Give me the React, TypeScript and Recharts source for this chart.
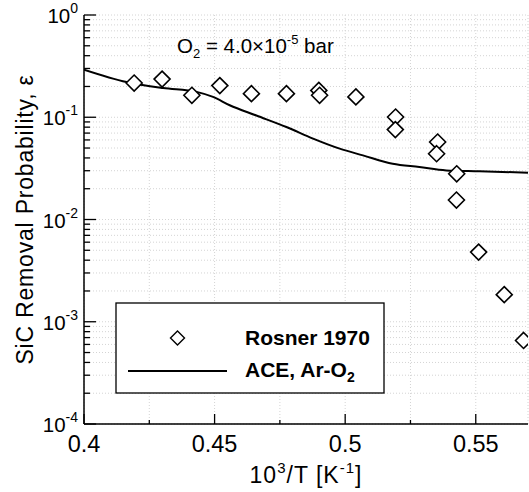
import React from 'react';
import {
  ComposedChart,
  Line,
  Scatter,
  XAxis,
  YAxis,
  CartesianGrid,
  Customized,
  Label,
} from 'recharts';

// Rosner 1970 measurements
const rosnerX = [
  0.4192, 0.4299, 0.4413, 0.452, 0.4641, 0.4775, 0.4899, 0.4902, 0.5041, 0.5193, 0.5192, 0.5354,
  0.535, 0.5427, 0.5426, 0.5511, 0.5609, 0.5683,
];
const rosnerY = [
  0.216, 0.236, 0.164, 0.204, 0.17, 0.17, 0.183, 0.164, 0.158, 0.1005, 0.0757, 0.0572, 0.044, 0.028,
  0.0155, 0.0048, 0.00184, 0.000656,
];

// ACE, Ar-O2 model curve
const aceX = [
  0.4, 0.4163, 0.4303, 0.4431, 0.4494, 0.4558, 0.466, 0.4775, 0.4877, 0.4979, 0.5068, 0.5182, 0.5284,
  0.5387, 0.5514, 0.57,
];
const aceY = [
  0.292, 0.221, 0.193, 0.177, 0.158, 0.131, 0.104, 0.0802, 0.0618, 0.0493, 0.0424, 0.0351, 0.0326,
  0.0302, 0.0296, 0.0287,
];

// axis ticks
const xMajorTicks = [0.4, 0.45, 0.5, 0.55];
const xTicks = [0.4, 0.425, 0.45, 0.475, 0.5, 0.525, 0.55];
const yDecades = [1e-4, 1e-3, 1e-2, 1e-1, 1];
const yMinorSteps = [2, 3, 4, 5, 6, 7, 8, 9];

const yTicks: number[] = [];
yDecades.forEach((d, i) => {
  yTicks.push(d);
  if (i < yDecades.length - 1) yMinorSteps.forEach((m) => yTicks.push(m * d));
});

const rosnerData = rosnerX.map((x, i) => ({ x, y: rosnerY[i] }));
const aceData = aceX.map((x, i) => ({ x, y: aceY[i] }));

const FONT = '"Liberation Sans", Arial, Helvetica, sans-serif';

const isDecade = (v: number) => Math.abs(Math.log10(v) - Math.round(Math.log10(v))) < 1e-6;

const renderXTick = (props: any) => {
  const { x, y, payload } = props;
  const major = xMajorTicks.some((t) => Math.abs(t - payload.value) < 1e-9);
  return (
    <g>
      <line x1={x} x2={x} y1={y} y2={y - (major ? 10 : 4)} stroke="#000" strokeWidth={1.3} />
      {major && (
        <text x={x} y={y + 28} textAnchor="middle" fontSize={23.5} fill="#000" fontFamily={FONT}>
          {String(payload.value)}
        </text>
      )}
    </g>
  );
};

const renderYTick = (props: any) => {
  const { x, y, payload } = props;
  const major = isDecade(payload.value);
  const exp = Math.round(Math.log10(payload.value));
  return (
    <g>
      <line x1={x} x2={x + (major ? 12 : 6)} y1={y} y2={y} stroke="#000" strokeWidth={1.3} />
      {major && (
        <text x={x - 6} y={y + 8} textAnchor="end" fontSize={20.5} fill="#000" fontFamily={FONT}>
          10
          <tspan dy={-10} fontSize={14}>
            {String(exp)}
          </tspan>
        </text>
      )}
    </g>
  );
};

const Diamond = (props: any) => {
  const { cx, cy } = props;
  const r = 8;
  return (
    <path
      d={`M${cx},${cy - r}L${cx + r},${cy}L${cx},${cy + r}L${cx - r},${cy}Z`}
      fill="#fff"
      stroke="#000"
      strokeWidth={1.6}
    />
  );
};

const XLabel = (props: any) => {
  const { viewBox } = props;
  const cx = viewBox.x + viewBox.width / 2;
  return (
    <text
      x={cx}
      y={viewBox.y + 59}
      textAnchor="middle"
      fontSize={23}
      letterSpacing={1}
      fill="#000"
      fontFamily={FONT}
    >
      10
      <tspan dy={-10} fontSize={15}>3</tspan>
      <tspan dy={10}>/T [K</tspan>
      <tspan dy={-10} fontSize={15}>-1</tspan>
      <tspan dy={10}>]</tspan>
    </text>
  );
};

const YLabel = (props: any) => {
  const { viewBox } = props;
  const cy = viewBox.y + viewBox.height / 2;
  const x = 33;
  return (
    <text
      x={x}
      y={cy}
      transform={`rotate(-90, ${x}, ${cy})`}
      textAnchor="middle"
      fontSize={23}
      letterSpacing={0.8}
      fill="#000"
      fontFamily={FONT}
    >
      SiC Removal Probability, ε
    </text>
  );
};

// annotation and legend box
const Overlay = () => (
  <g fontFamily={FONT} fill="#000">
    <text x={177} y={53} fontSize={20.5}>
      O<tspan dy={5} fontSize={13}>2</tspan>
      <tspan dy={-5}> = 4.0×10</tspan>
      <tspan dy={-9} fontSize={13}>-5</tspan>
      <tspan dy={9}> bar</tspan>
    </text>
    <rect x={116} y={303} width={268} height={90} fill="#fff" stroke="#000" strokeWidth={1.3} />
    <path d="M177.5,331L184.5,338L177.5,345L170.5,338Z" fill="#fff" stroke="#000" strokeWidth={1.4} />
    <line x1={128} x2={227} y1={371} y2={371} stroke="#000" strokeWidth={2} />
    <text x={245} y={345} fontSize={21} fontWeight="bold">
      Rosner 1970
    </text>
    <text x={245} y={377} fontSize={21} fontWeight="bold">
      ACE, Ar-O<tspan dy={5} fontSize={14}>2</tspan>
    </text>
  </g>
);

export default function App() {
  return (
    <div
      style={{
        position: 'absolute',
        left: 0,
        top: 0,
        width: 529,
        height: 492,
        background: '#fff',
        fontFamily: FONT,
      }}
    >
      <ComposedChart width={529} height={492} margin={{ top: 15, right: 1, bottom: 0, left: 0 }}>
        <CartesianGrid stroke="#d4d4d4" strokeDasharray="1 2" />
        <XAxis
          dataKey="x"
          type="number"
          domain={[0.4, 0.57]}
          ticks={xTicks}
          interval={0}
          allowDataOverflow
          height={68}
          tickSize={0}
          tickMargin={0}
          tickLine={false}
          tick={renderXTick}
          axisLine={{ stroke: '#000', strokeWidth: 1.5 }}
        >
          <Label content={<XLabel />} />
        </XAxis>
        <XAxis
          xAxisId="top"
          orientation="top"
          type="number"
          domain={[0.4, 0.57]}
          height={0}
          tick={false}
          tickLine={false}
          axisLine={{ stroke: '#000', strokeWidth: 1.5 }}
        />
        <YAxis
          dataKey="y"
          type="number"
          scale="log"
          domain={[1e-4, 1]}
          ticks={yTicks}
          interval={0}
          allowDataOverflow
          width={84}
          tickSize={0}
          tickMargin={0}
          tickLine={false}
          tick={renderYTick}
          axisLine={{ stroke: '#000', strokeWidth: 1.5 }}
        >
          <Label content={<YLabel />} />
        </YAxis>
        <YAxis
          yAxisId="right"
          orientation="right"
          type="number"
          scale="log"
          domain={[1e-4, 1]}
          width={0}
          tick={false}
          tickLine={false}
          axisLine={{ stroke: '#000', strokeWidth: 1.5 }}
        />
        <Line
          data={aceData}
          dataKey="y"
          type="monotone"
          stroke="#000"
          strokeWidth={2}
          dot={false}
          activeDot={false}
          isAnimationActive={false}
        />
        <Scatter data={rosnerData} dataKey="y" shape={<Diamond />} isAnimationActive={false} />
        <Customized component={<Overlay />} />
      </ComposedChart>
    </div>
  );
}
